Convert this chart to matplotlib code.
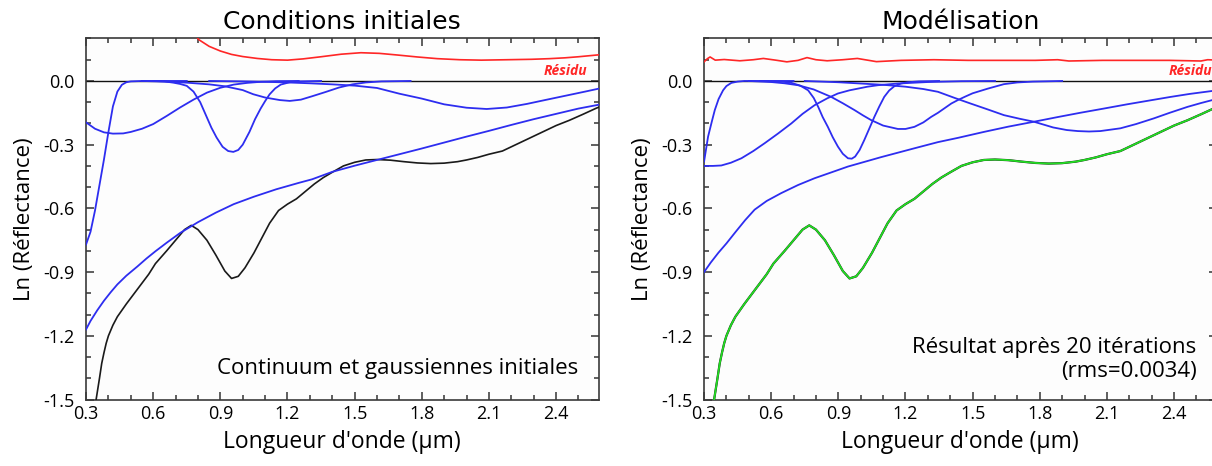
import matplotlib
matplotlib.use('Agg')
import matplotlib.pyplot as plt
from matplotlib.ticker import MultipleLocator

plt.rcParams['font.family'] = ['Open Sans', 'DejaVu Sans']
plt.rcParams['axes.unicode_minus'] = False

# ── Spectre mesuré (commun aux deux panneaux) ─────────────────────────────────
spec_x = [0.33, 0.345, 0.36, 0.37, 0.38, 0.39, 0.40, 0.42, 0.44, 0.48, 0.53, 0.58, 0.61, 0.66, 0.70,
          0.74, 0.77, 0.80, 0.84, 0.88, 0.92, 0.95, 0.98, 1.01, 1.05, 1.09, 1.12, 1.16, 1.20,
          1.24, 1.28, 1.32, 1.36, 1.40, 1.45, 1.50, 1.55, 1.60, 1.66, 1.72, 1.78, 1.84,
          1.90, 1.96, 2.00, 2.05, 2.10, 2.16, 2.22, 2.28, 2.34, 2.40, 2.46, 2.52, 2.58, 2.60]
spec_y = [-1.62, -1.50, -1.40, -1.33, -1.28, -1.235, -1.20, -1.15, -1.11, -1.05, -0.98, -0.91, -0.86,
          -0.80, -0.75, -0.70, -0.68, -0.70, -0.75, -0.82, -0.895, -0.93, -0.92, -0.88, -0.81, -0.73,
          -0.67, -0.61, -0.58, -0.555, -0.52, -0.485, -0.455, -0.43, -0.40, -0.383, -0.372, -0.37,
          -0.373, -0.38, -0.386, -0.389, -0.387, -0.38, -0.372, -0.36, -0.345, -0.33, -0.30, -0.27,
          -0.24, -0.21, -0.185, -0.157, -0.128, -0.12]

# ── Conditions initiales ──────────────────────────────────────────────────────
ini_cont_x = [0.30, 0.32, 0.35, 0.38, 0.41, 0.44, 0.48, 0.53, 0.57, 0.61, 0.66, 0.72, 0.80, 0.88,
              0.96, 1.05, 1.15, 1.25, 1.31, 1.40, 1.50, 1.57, 1.70, 1.80, 1.90, 2.00, 2.10, 2.20,
              2.30, 2.40, 2.50, 2.60]
ini_cont_y = [-1.17, -1.13, -1.08, -1.035, -0.995, -0.958, -0.917, -0.873, -0.836, -0.802, -0.762,
              -0.716, -0.665, -0.62, -0.58, -0.545, -0.51, -0.48, -0.463, -0.428, -0.399, -0.38,
              -0.345, -0.318, -0.29, -0.262, -0.235, -0.207, -0.18, -0.155, -0.13, -0.11]

ini_g1_x = [0.30, 0.32, 0.34, 0.36, 0.38, 0.40, 0.42, 0.44, 0.46, 0.48, 0.50, 0.55, 0.75]
ini_g1_y = [-0.77, -0.71, -0.61, -0.49, -0.37, -0.24, -0.12, -0.05, -0.018, -0.006, -0.002, 0.0, 0.0]

ini_g2_x = [0.30, 0.34, 0.38, 0.42, 0.466, 0.50, 0.55, 0.60, 0.66, 0.72, 0.78, 0.84, 0.90, 0.96,
            1.02, 1.08, 1.15, 1.25]
ini_g2_y = [-0.195, -0.225, -0.242, -0.248, -0.247, -0.24, -0.225, -0.203, -0.165, -0.125, -0.088,
            -0.055, -0.032, -0.017, -0.009, -0.004, -0.001, 0.0]

ini_g3_x = [0.60, 0.65, 0.69, 0.72, 0.75, 0.78, 0.81, 0.84, 0.86, 0.883, 0.91, 0.935, 0.958, 0.98,
            1.00, 1.03, 1.055, 1.08, 1.10, 1.12, 1.145, 1.17, 1.21, 1.25, 1.35]
ini_g3_y = [0.0, -0.002, -0.008, -0.014, -0.023, -0.05, -0.10, -0.172, -0.22, -0.266, -0.31, -0.33,
            -0.334, -0.325, -0.30, -0.24, -0.18, -0.13, -0.095, -0.063, -0.035, -0.017, -0.006, -0.002, 0.0]

ini_g4_x = [0.55, 0.65, 0.75, 0.85, 0.92, 1.00, 1.047, 1.10, 1.166, 1.21, 1.26, 1.31, 1.37, 1.43,
            1.49, 1.55, 1.62, 1.75]
ini_g4_y = [0.0, -0.003, -0.008, -0.016, -0.025, -0.043, -0.0625, -0.078, -0.09, -0.094, -0.088,
            -0.072, -0.052, -0.031, -0.016, -0.007, -0.002, 0.0]

ini_g5_x = [0.85, 1.00, 1.10, 1.20, 1.30, 1.40, 1.50, 1.60, 1.70, 1.80, 1.90, 2.00, 2.09, 2.18,
            2.27, 2.35, 2.44, 2.53, 2.60]
ini_g5_y = [0.0, -0.002, -0.004, -0.007, -0.011, -0.016, -0.022, -0.033, -0.06, -0.083, -0.11,
            -0.126, -0.132, -0.125, -0.108, -0.09, -0.07, -0.05, -0.034]

ini_res_x = [0.78, 0.803, 0.85, 0.90, 0.95, 1.00, 1.065, 1.13, 1.20, 1.27, 1.35, 1.44, 1.528, 1.61,
             1.693, 1.78, 1.87, 1.97, 2.066, 2.18, 2.29, 2.37, 2.44, 2.50, 2.56, 2.60]
ini_res_y = [0.23, 0.195, 0.163, 0.141, 0.125, 0.115, 0.106, 0.10, 0.098, 0.104, 0.114, 0.126, 0.133,
             0.13, 0.122, 0.113, 0.105, 0.10, 0.098, 0.10, 0.102, 0.105, 0.109, 0.114, 0.12, 0.124]

# ── Modélisation (après 20 itérations) ────────────────────────────────────────
mod_cont_x = [0.30, 0.33, 0.364, 0.40, 0.44, 0.484, 0.526, 0.58, 0.645, 0.72, 0.794, 0.87, 0.943,
              1.02, 1.09, 1.165, 1.24, 1.345, 1.434, 1.55, 1.66, 1.774, 1.88, 1.98, 2.086, 2.19,
              2.29, 2.385, 2.47, 2.60]
mod_cont_y = [-0.90, -0.855, -0.809, -0.765, -0.712, -0.655, -0.606, -0.565, -0.528, -0.49, -0.458,
              -0.43, -0.403, -0.38, -0.359, -0.338, -0.317, -0.288, -0.268, -0.24, -0.215, -0.192,
              -0.17, -0.15, -0.13, -0.11, -0.092, -0.075, -0.061, -0.043]

mod_g1_x = [0.30, 0.318, 0.335, 0.348, 0.365, 0.385, 0.40, 0.422, 0.45, 0.48, 0.70]
mod_g1_y = [-0.38, -0.262, -0.19, -0.137, -0.085, -0.044, -0.024, -0.009, -0.003, 0.0, 0.0]

mod_g2_x = [0.30, 0.34, 0.377, 0.42, 0.467, 0.52, 0.571, 0.63, 0.69, 0.74, 0.794, 0.85, 0.898,
            0.95, 0.988, 1.03, 1.077, 1.166, 1.30, 1.45, 1.60]
mod_g2_y = [-0.40, -0.40, -0.398, -0.385, -0.364, -0.33, -0.293, -0.248, -0.20, -0.155, -0.114,
            -0.082, -0.059, -0.044, -0.036, -0.027, -0.02, -0.012, -0.005, -0.001, 0.0]

mod_g3_x = [0.55, 0.65, 0.69, 0.73, 0.765, 0.79, 0.81, 0.83, 0.853, 0.875, 0.898, 0.92, 0.943,
            0.96, 0.975, 0.995, 1.016, 1.04, 1.061, 1.083, 1.105, 1.127, 1.15, 1.18, 1.21, 1.26, 1.35]
mod_g3_y = [0.0, -0.003, -0.009, -0.022, -0.044, -0.08, -0.122, -0.17, -0.216, -0.265, -0.309,
            -0.343, -0.364, -0.366, -0.356, -0.325, -0.278, -0.22, -0.169, -0.12, -0.075, -0.045,
            -0.025, -0.012, -0.006, -0.002, 0.0]

mod_g4_x = [0.50, 0.60, 0.66, 0.72, 0.79, 0.868, 0.92, 0.972, 1.01, 1.046, 1.10, 1.166, 1.20,
            1.24, 1.28, 1.315, 1.345, 1.375, 1.405, 1.434, 1.464, 1.50, 1.568, 1.64, 1.70, 1.77, 1.90]
mod_g4_y = [0.0, -0.005, -0.011, -0.02, -0.04, -0.075, -0.105, -0.137, -0.162, -0.184, -0.21,
            -0.226, -0.226, -0.216, -0.195, -0.169, -0.15, -0.128, -0.106, -0.09, -0.075, -0.058,
            -0.036, -0.015, -0.007, -0.003, 0.0]

mod_g5_x = [0.75, 0.90, 1.00, 1.10, 1.20, 1.28, 1.345, 1.42, 1.49, 1.57, 1.64, 1.71, 1.774, 1.86,
            1.92, 1.97, 2.02, 2.07, 2.16, 2.23, 2.31, 2.38, 2.46, 2.52, 2.60]
mod_g5_y = [0.0, -0.006, -0.012, -0.018, -0.027, -0.038, -0.051, -0.08, -0.106, -0.135, -0.161,
            -0.178, -0.192, -0.219, -0.231, -0.236, -0.238, -0.236, -0.223, -0.203, -0.176, -0.15,
            -0.122, -0.104, -0.082]

mod_res_x = [0.30, 0.315, 0.327, 0.35, 0.39, 0.46, 0.52, 0.565, 0.62, 0.67, 0.72, 0.76, 0.80,
             0.85, 0.92, 0.985, 1.07, 1.18, 1.327, 1.48, 1.63, 1.78, 1.88, 1.93, 2.08, 2.23,
             2.38, 2.52, 2.55, 2.60]
mod_res_y = [0.09, 0.105, 0.113, 0.098, 0.101, 0.095, 0.10, 0.106, 0.098, 0.09, 0.097, 0.11, 0.10,
             0.095, 0.10, 0.106, 0.091, 0.097, 0.10, 0.097, 0.097, 0.097, 0.10, 0.094, 0.097,
             0.097, 0.097, 0.094, 0.10, 0.098]

x_ticks = [0.3, 0.6, 0.9, 1.2, 1.5, 1.8, 2.1, 2.4]
x_ticklabels = ['0.3', '0.6', '0.9', '1.2', '1.5', '1.8', '2.1', '2.4']
y_ticks = [-1.5, -1.2, -0.9, -0.6, -0.3, 0.0]
y_ticklabels = ['-1.5', '-1.2', '-0.9', '-0.6', '-0.3', '0.0']

BLUE  = '#2d2df0'
RED   = '#ff2626'
GREEN = '#22dd22'


def style_axes(ax):
    ax.set_facecolor('#fdfdfd')
    ax.set_xlim(0.3, 2.59)
    ax.set_ylim(-1.5, 0.2)
    ax.set_xticks(x_ticks)
    ax.set_xticklabels(x_ticklabels)
    ax.set_yticks(y_ticks)
    ax.set_yticklabels(y_ticklabels)
    ax.xaxis.set_minor_locator(MultipleLocator(0.1))
    ax.yaxis.set_minor_locator(MultipleLocator(0.1))
    ax.tick_params(which='both', direction='in', top=True, right=True, color='#333333')
    ax.tick_params(which='major', length=6, width=1.1, labelsize=13)
    ax.tick_params(which='minor', length=3.5, width=1.1)
    ax.tick_params(axis='x', which='major', pad=4)
    ax.tick_params(axis='y', which='major', pad=8)
    for sp in ax.spines.values():
        sp.set_color('#3a3a3a')
        sp.set_linewidth(1.2)
    ax.axhline(0.0, color='#111111', lw=1.0, zorder=2)
    ax.set_xlabel("Longueur d'onde (µm)", fontsize=16.5, labelpad=5)
    ax.set_ylabel('Ln (Réflectance)', fontsize=16, labelpad=6)


fig = plt.figure(figsize=(12.12, 4.66), dpi=100)
ax1 = fig.add_axes([0.0710, 0.1427, 0.4229, 0.7747])
ax2 = fig.add_axes([0.5809, 0.1427, 0.4229, 0.7747])

# ── Panneau gauche ────────────────────────────────────────────────────────────
style_axes(ax1)
ax1.plot(spec_x, spec_y, color='#1a1a1a', lw=1.2, zorder=3)
for gx, gy in [(ini_g1_x, ini_g1_y), (ini_g2_x, ini_g2_y), (ini_g3_x, ini_g3_y),
               (ini_g4_x, ini_g4_y), (ini_g5_x, ini_g5_y), (ini_cont_x, ini_cont_y)]:
    ax1.plot(gx, gy, color=BLUE, lw=1.3, zorder=4)
ax1.plot(ini_res_x, ini_res_y, color=RED, lw=1.2, zorder=4)
ax1.text(2.54, 0.047, 'Résidu', color=RED, fontsize=10, fontweight='bold', style='italic',
         ha='right', va='center')
ax1.text(2.50, -1.355, 'Continuum et gaussiennes initiales', fontsize=16, ha='right', va='center')
ax1.set_title('Conditions initiales', fontsize=18, family='DejaVu Sans', pad=7)

# ── Panneau droit ─────────────────────────────────────────────────────────────
style_axes(ax2)
ax2.plot(spec_x, spec_y, color='#1a1a1a', lw=1.6, zorder=3)
ax2.plot(spec_x, spec_y, color=GREEN, lw=1.3, zorder=3)
for gx, gy in [(mod_g1_x, mod_g1_y), (mod_g2_x, mod_g2_y), (mod_g3_x, mod_g3_y),
               (mod_g4_x, mod_g4_y), (mod_g5_x, mod_g5_y), (mod_cont_x, mod_cont_y)]:
    ax2.plot(gx, gy, color=BLUE, lw=1.3, zorder=4)
ax2.plot(mod_res_x, mod_res_y, color=RED, lw=1.2, zorder=4)
ax2.text(2.57, 0.045, 'Résidu', color=RED, fontsize=10, fontweight='bold', style='italic',
         ha='right', va='center')
ax2.text(2.50, -1.255, 'Résultat après 20 itérations', fontsize=16, ha='right', va='center')
ax2.text(2.50, -1.37, '(rms=0.0034)', fontsize=16, ha='right', va='center')
ax2.set_title('Modélisation', fontsize=18, family='DejaVu Sans', pad=7)

fig.savefig('out.png', dpi=100, facecolor='white')
